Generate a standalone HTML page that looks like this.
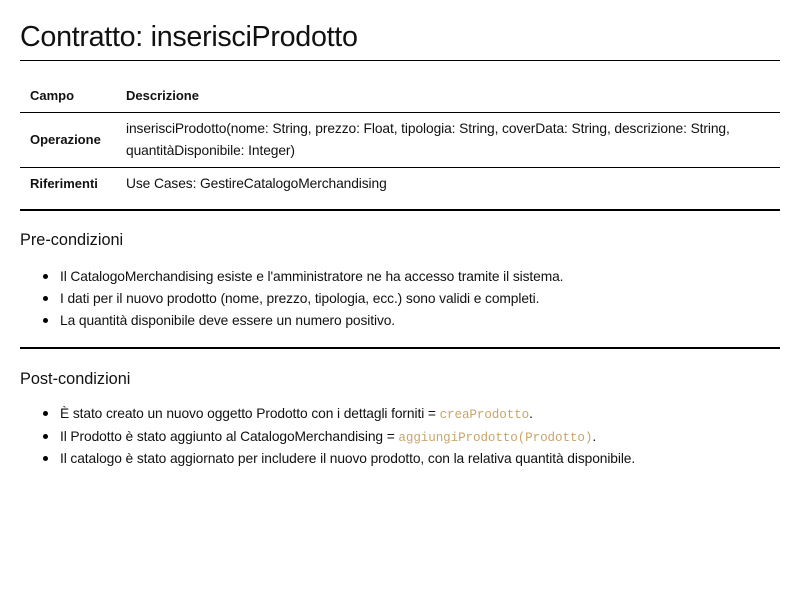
<!DOCTYPE html>
<html><head><meta charset="utf-8"><style>
body{margin:0;width:800px;height:600px;background:#fff;font-family:"Liberation Sans",sans-serif;color:#111;position:relative;overflow:hidden}
.a{position:absolute;white-space:nowrap;line-height:20px}
.s{font-size:13.8px;letter-spacing:-0.1px}
.b{font-weight:bold;font-size:13px}
.hr{position:absolute;left:20px;width:760px;background:#000}
.dot{position:absolute;width:5px;height:5px;border-radius:50%;background:#000;left:43px}
code{font-family:"Liberation Mono",monospace;color:#c8a66a;font-size:12.6px}
</style></head><body>
<div class="a" style="left:20px;top:20px;font-size:28.7px;line-height:34px;letter-spacing:-0.3px">Contratto: inserisciProdotto</div>
<div class="hr" style="top:60px;height:1px"></div>
<div class="a b" style="left:30px;top:86px">Campo</div>
<div class="a b" style="left:126px;top:86px">Descrizione</div>
<div class="hr" style="top:112px;height:1px"></div>
<div class="a b" style="left:30px;top:130px">Operazione</div>
<div class="a s" style="left:126px;top:119px">inserisciProdotto(nome: String, prezzo: Float, tipologia: String, coverData: String, descrizione: String,</div>
<div class="a s" style="left:126px;top:141px">quantitàDisponibile: Integer)</div>
<div class="hr" style="top:167px;height:1px"></div>
<div class="a b" style="left:30px;top:174px">Riferimenti</div>
<div class="a s" style="left:126px;top:174px">Use Cases: GestireCatalogoMerchandising</div>
<div class="hr" style="top:209px;height:2px"></div>
<div class="a" style="left:20px;top:230px;font-size:16.3px">Pre-condizioni</div>
<div class="dot" style="top:274px"></div>
<div class="a s" style="left:60px;top:267px">Il CatalogoMerchandising esiste e l'amministratore ne ha accesso tramite il sistema.</div>
<div class="dot" style="top:296px"></div>
<div class="a s" style="left:60px;top:289px">I dati per il nuovo prodotto (nome, prezzo, tipologia, ecc.) sono validi e completi.</div>
<div class="dot" style="top:318px"></div>
<div class="a s" style="left:60px;top:311px">La quantità disponibile deve essere un numero positivo.</div>
<div class="hr" style="top:347px;height:2px"></div>
<div class="a" style="left:20px;top:369px;font-size:16.3px">Post-condizioni</div>
<div class="dot" style="top:411px"></div>
<div class="a s" style="left:60px;top:404px">È stato creato un nuovo oggetto Prodotto con i dettagli forniti = <code>creaProdotto</code>.</div>
<div class="dot" style="top:434px"></div>
<div class="a s" style="left:60px;top:427px">Il Prodotto è stato aggiunto al CatalogoMerchandising = <code>aggiungiProdotto(Prodotto)</code>.</div>
<div class="dot" style="top:456px"></div>
<div class="a s" style="left:60px;top:449px">Il catalogo è stato aggiornato per includere il nuovo prodotto, con la relativa quantità disponibile.</div>
</body></html>
